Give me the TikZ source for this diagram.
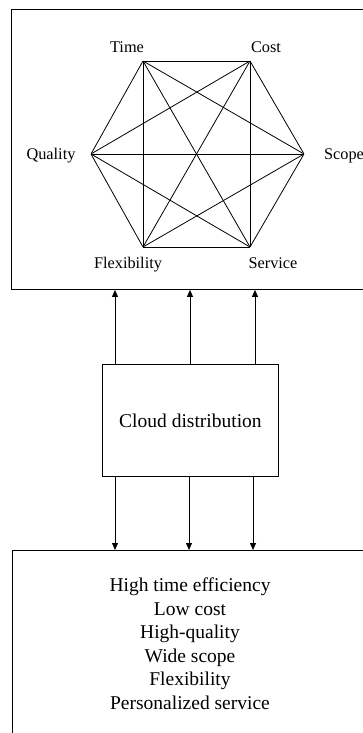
\documentclass[tikz,border=0pt]{standalone}
\usepackage{fontspec}
\setmainfont{Liberation Serif}
\usetikzlibrary{arrows.meta}
\begin{document}
\begin{tikzpicture}[x=1pt,y=-1pt,
  box/.style={draw,line width=0.9pt,inner sep=0pt,anchor=north west},
  vtx/.style={inner sep=0pt,minimum size=0pt},
  lbl/.style={font=\fontsize{16.3}{18}\selectfont,anchor=base,inner sep=0pt},
  edge/.style={line width=0.8pt},
  arr/.style={line width=0.8pt,-{Triangle[length=7pt,width=6pt]}}]
\useasboundingbox (0,0) rectangle (363,733);
\clip (0,0) rectangle (363,733);
% boxes
\node[box,minimum width=370pt,minimum height=280pt] (top) at (11,9) {};
\node[box,minimum width=176pt,minimum height=112pt] (cloud) at (102,364) {};
\node[font=\fontsize{19.5}{22}\selectfont] (cloudtxt) at (cloud.center) {Cloud distribution};
\node[box,minimum width=370pt,minimum height=200pt] (bottom) at (12,550) {};
% hexagon vertices
\node[vtx] (T) at (143,61) {};
\node[vtx] (C) at (250,61) {};
\node[vtx] (Q) at (91,154) {};
\node[vtx] (S) at (304,154) {};
\node[vtx] (F) at (143,247) {};
\node[vtx] (V) at (250,247) {};
\foreach \a/\b in {T/C,T/Q,T/S,T/F,T/V,C/Q,C/S,C/F,C/V,Q/S,Q/F,Q/V,S/F,S/V,F/V}
  \draw[edge] (\a) -- (\b);
% labels
\node[lbl] (lT) at (127,53) {Time};
\node[lbl] (lC) at (266,53) {Cost};
\node[lbl] (lQ) at (51,159) {Quality};
\node[lbl] (lS) at (344,159) {Scope};
\node[lbl] (lF) at (128,268) {Flexibility};
\node[lbl] (lV) at (273,268) {Service};
% arrows
\coordinate (u1) at (115,0);
\coordinate (u2) at (190,0);
\coordinate (u3) at (255,0);
\coordinate (d1) at (115,0);
\coordinate (d2) at (189,0);
\coordinate (d3) at (253,0);
\foreach \c in {u1,u2,u3}
  \draw[arr] (cloud.north -| \c) -- (top.south -| \c);
\foreach \c in {d1,d2,d3}
  \draw[arr] (cloud.south -| \c) -- (bottom.north -| \c);
% bottom text
\node[font=\fontsize{19.5}{23.6}\selectfont,align=center,anchor=north,inner sep=0pt] (list) at (190,577.5)
  {High time efficiency\\Low cost\\High-quality\\Wide scope\\Flexibility\\Personalized service};
\end{tikzpicture}
\end{document}
